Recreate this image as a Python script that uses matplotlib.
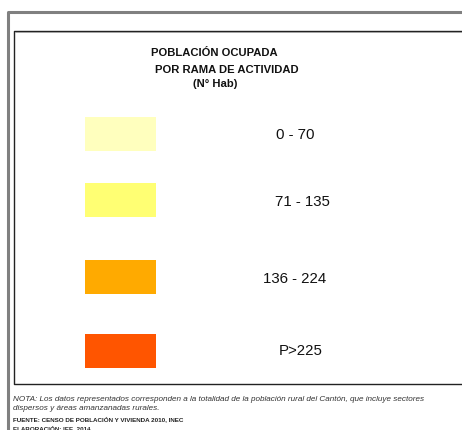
import matplotlib
matplotlib.use("Agg")
import matplotlib.pyplot as plt
from matplotlib.patches import Rectangle

plt.rcParams['font.family'] = ['Liberation Sans', 'DejaVu Sans']

title_lines = ["POBLACIÓN OCUPADA", "POR RAMA DE ACTIVIDAD", "(N° Hab)"]
class_labels = ["0 - 70", "71 - 135", "136 - 224", "P>225"]
class_colors = ["#FFFFBE", "#FFFF73", "#FFAA00", "#FF5500"]
note_lines = [
    "NOTA: Los datos representados corresponden a la totalidad de la población rural del Cantón, que incluye sectores",
    "dispersos y áreas amanzanadas rurales.",
]
source_lines = ["FUENTE: CENSO DE POBLACIÓN Y VIVIENDA 2010, INEC", "ELABORACIÓN: IEE, 2014"]

W, H = 462, 430
fig = plt.figure(figsize=(W / 100, H / 100), dpi=100)
ax = fig.add_axes([0, 0, 1, 1])
ax.set_xlim(0, W)
ax.set_ylim(H, 0)
ax.axis('off')

# outer gray frame
ax.plot([8, 8, W + 5], [H + 5, 11.5, 11.5], color="#808080", lw=2.2, solid_capstyle='butt')
# inner black frame
ax.plot([W + 5, 13.5, 13.5, W + 5], [31, 31, 384, 384], color="#222222", lw=1.0)
ax.plot([W + 5, 14.5], [32.3, 32.3], color="#999999", lw=0.6)

# title
title_pos = [(214, 53), (227, 70), (215, 84)]
for (x, y), t in zip(title_pos, title_lines):
    ax.text(x, y, t, ha='center', va='center', fontsize=8.1, fontweight='bold', color="#111111")

# legend swatches
sw_y = [117, 183, 259.5, 334]
lab_pos = [(295, 135), (302, 202), (295, 279), (301, 351)]
for y0, col, (lx, ly), lab in zip(sw_y, class_colors, lab_pos, class_labels):
    ax.add_patch(Rectangle((85, y0), 71, 34, facecolor=col, edgecolor='none'))
    ax.text(lx, ly, lab, ha='center', va='center', fontsize=10.8, color="#111111")

# notes
ax.text(13, 399.5, note_lines[0], ha='left', va='center', fontsize=5.85, style='italic', color="#333333")
ax.text(13, 409, note_lines[1], ha='left', va='center', fontsize=5.85, style='italic', color="#333333")
ax.text(13, 419, source_lines[0], ha='left', va='center', fontsize=4.5, fontweight='bold', color="#222222")
ax.text(13, 428.5, source_lines[1], ha='left', va='center', fontsize=4.5, fontweight='bold', color="#222222")

fig.savefig("out.png", dpi=100)
